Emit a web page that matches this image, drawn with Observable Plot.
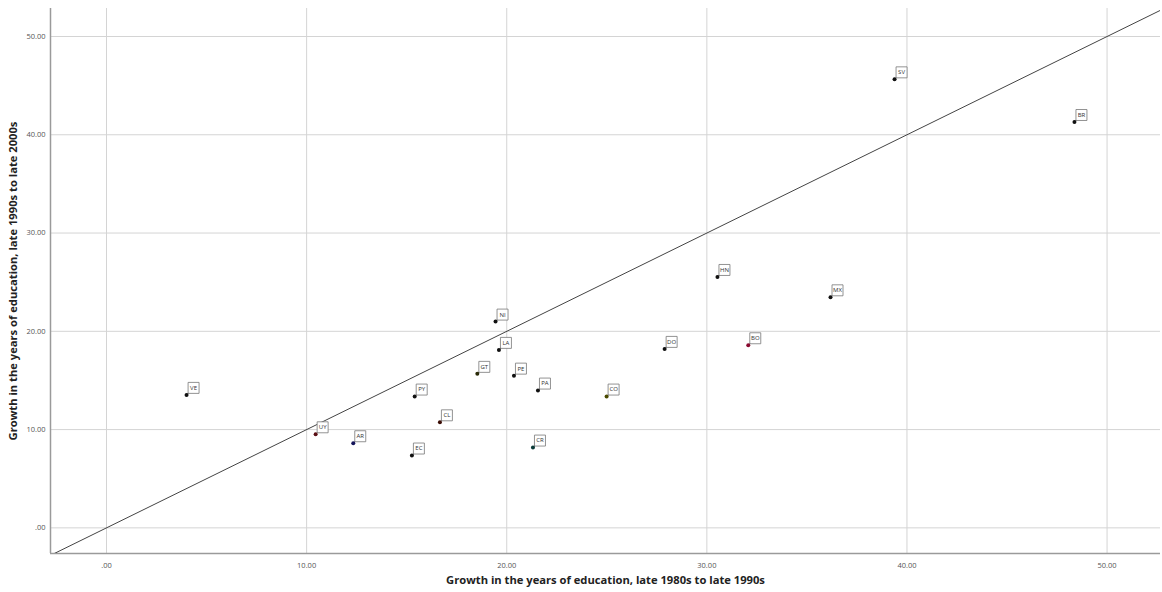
<!DOCTYPE html>
<html>
<head>
<meta charset="utf-8">
<script src="https://cdn.jsdelivr.net/npm/d3@7"></script>
<script src="https://cdn.jsdelivr.net/npm/@observablehq/plot@0.6"></script>
<style>
  html, body { margin: 0; padding: 0; background: #fff; }
  #chart svg { display: block; }
</style>
</head>
<body>
<div id="chart"></div>
<script>
// Country codes
const codes = ["VE","UY","AR","EC","PY","CL","GT","NI","LA","PE","PA","CR","CO","DO","BO","HN","MX","SV","BR"];
// Growth in years of education, late 1980s to late 1990s
const growth80s90s = [4.0, 10.45, 12.33, 15.26, 15.4, 16.66, 18.53, 19.44, 19.61, 20.36, 21.56, 21.31, 24.99, 27.89, 32.07, 30.53, 36.18, 39.38, 48.37];
// Growth in years of education, late 1990s to late 2000s
const growth90s00s = [13.53, 9.52, 8.61, 7.36, 13.36, 10.74, 15.67, 20.99, 18.11, 15.49, 13.97, 8.17, 13.36, 18.21, 18.58, 25.53, 23.46, 45.64, 41.30];
// Marker colours
const markerColors = ["#111111","#5a0f14","#14145a","#111111","#111111","#3a0c04","#2a2a08","#111111","#111111","#111111","#111111","#0a3a38","#4a4a00","#111111","#8a0a30","#111111","#111111","#111111","#111111"];
// Axis ticks
const ticks = [0, 10, 20, 30, 40, 50];
const xDomain = [-2.8, 52.67];
const yDomain = [-2.61, 52.85];

const data = codes.map((c, i) => ({code: c, x: growth80s90s[i], y: growth90s00s[i], color: markerColors[i]}));
const diag = [Math.min(xDomain[0], yDomain[0]), Math.max(xDomain[1], yDomain[1])].map(v => ({v}));

const fmt = d => d === 0 ? ".00" : d.toFixed(2);

const chart = Plot.plot({
  width: 1162,
  height: 592,
  marginLeft: 50,
  marginRight: 2,
  marginTop: 8,
  marginBottom: 39,
  style: {fontFamily: "'Open Sans', sans-serif", background: "#fff"},
  x: {domain: xDomain},
  y: {domain: yDomain},
  marks: [
    Plot.gridX(ticks, {stroke: "#d4d4d4", strokeOpacity: 1, strokeWidth: 1}),
    Plot.gridY(ticks, {stroke: "#d4d4d4", strokeOpacity: 1, strokeWidth: 1}),
    Plot.ruleX([xDomain[0]], {stroke: "#9a9a9a", strokeWidth: 1.5}),
    Plot.ruleY([yDomain[0]], {stroke: "#9a9a9a", strokeWidth: 1.5}),
    Plot.axisX(ticks, {
      tickFormat: fmt, tickSize: 0, tickPadding: 9, fontSize: 7.5, fill: "#555",
      label: "Growth in the years of education, late 1980s to late 1990s",
      labelAnchor: "center", labelOffset: 30, labelArrow: false
    }),
    Plot.axisY(ticks, {
      tickFormat: fmt, tickSize: 0, tickPadding: 5, fontSize: 7.5, fill: "#555",
      label: "Growth in the years of education, late 1990s to late 2000s",
      labelAnchor: "center", labelOffset: 41, labelArrow: false
    }),
    Plot.line(diag, {x: "v", y: "v", stroke: "#444", strokeWidth: 1, clip: true}),
    Plot.vector(data, {x: "x", y: "y", rotate: 45, length: 4, anchor: "start", stroke: "#666", strokeWidth: 0.8, shape: {draw(ctx, l) { ctx.moveTo(0, 0); ctx.lineTo(0, -l); }}}),
    Plot.dot(data, {x: "x", y: "y", symbol: "square", r: 6.2, dx: 7, dy: -7, fill: "#fff", stroke: "#777", strokeWidth: 0.8}),
    Plot.text(data, {x: "x", y: "y", text: "code", dx: 7, dy: -7, fontSize: 6, fill: "#333"}),
    Plot.dot(data, {x: "x", y: "y", r: 2, fill: "color", stroke: null})
  ]
});

// Axis label styling
chart.querySelectorAll("[aria-label='x-axis label'] text, [aria-label='y-axis label'] text").forEach(t => {
  t.setAttribute("font-weight", "bold");
  t.setAttribute("font-size", "11.2");
  t.setAttribute("fill", "#222");
});
document.getElementById("chart").appendChild(chart);
</script>
</body>
</html>
